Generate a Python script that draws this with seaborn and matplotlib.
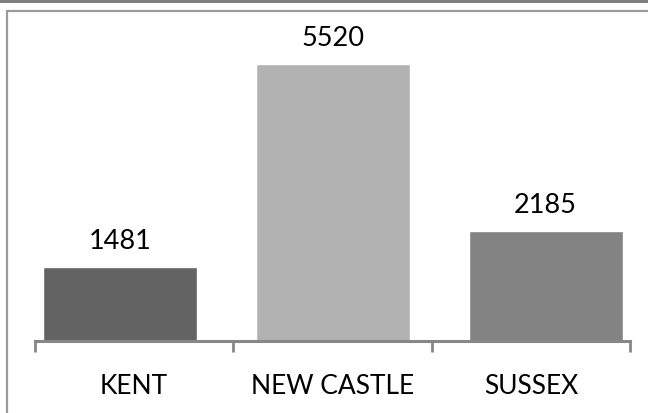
import matplotlib
matplotlib.use("Agg")
import matplotlib.pyplot as plt
import seaborn as sns
import pandas as pd
from matplotlib.patches import Rectangle
from matplotlib.lines import Line2D

counties = ["KENT", "NEW CASTLE", "SUSSEX"]
counts = [1481, 5520, 2185]
colors = ["#636363", "#b2b2b2", "#838383"]

sns.set_theme(style="white")
plt.rcParams["font.family"] = ["Lato", "DejaVu Sans"]

W, H = 648, 414
fig = plt.figure(figsize=(W / 100, H / 100), dpi=100)

# frame decorations
fig.patches.append(Rectangle((0, 1 - 4 / H), 1, 4 / H, transform=fig.transFigure,
                             facecolor="#7f7f7f", edgecolor="none"))
fig.lines.append(Line2D([7 / W, 1], [1 - 12 / H, 1 - 12 / H], transform=fig.transFigure,
                        color="#9a9a9a", lw=1.6))
fig.lines.append(Line2D([7 / W, 7 / W], [0, 1 - 12 / H], transform=fig.transFigure,
                        color="#9a9a9a", lw=1.6))

left, right = 35 / W, 630 / W
bottom, top = (H - 342) / H, (H - 41) / H
rect = [left, bottom, right - left, top - bottom]

df = pd.DataFrame({"county": counties, "count": counts})

ax = fig.add_axes(rect)
sns.barplot(data=df, x="county", y="count", hue="county", palette=colors,
            width=0.724, legend=False, ax=ax, saturation=1)
ax.set_xlim(-0.3995, 2.397)
ax.set_ylim(0, 6000)
for c in ax.containers:
    ax.bar_label(c, padding=10, fontsize=19.5, color="black")
ax.set_axis_off()

# category axis
ax2 = fig.add_axes(rect, facecolor="none")
ax2.set_xlim(-0.5, len(counties) - 0.5)
ax2.set_ylim(0, 1)
for s in ["top", "left", "right"]:
    ax2.spines[s].set_visible(False)
ax2.spines["bottom"].set_color("#878787")
ax2.spines["bottom"].set_linewidth(2.2)
ax2.set_yticks([])
ax2.set_xticks(range(len(counties)))
ax2.set_xticklabels(counties, fontsize=19, color="black")
ax2.set_xticks([i - 0.5 for i in range(len(counties) + 1)], minor=True)
ax2.tick_params(axis="x", which="major", length=0, pad=23)
ax2.tick_params(axis="x", which="minor", length=8, width=2, color="#878787",
                direction="out", bottom=True)

fig.savefig("out.png", dpi=100)
